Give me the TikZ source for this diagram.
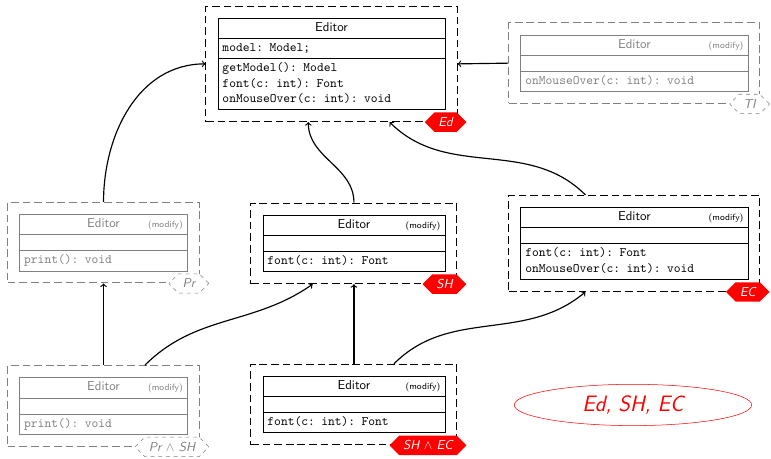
\documentclass[tikz,border=0pt]{standalone}
\usepackage{tikz}
\usetikzlibrary{shapes.multipart,shapes.misc,shapes.geometric,fit}

\newcommand{\edtitle}{\makebox[\linewidth]{\sffamily Editor}}
\newcommand{\modtitle}{\edtitle\llap{\sffamily\scriptsize (modify)}}

\begin{document}
\begin{tikzpicture}[
    cls/.style={rectangle split, rectangle split parts=3, draw, line width=0.6pt,
      text width=#1, inner xsep=3.5pt, inner ysep=1.5pt, font=\ttfamily},
    grp/.style={draw, thick, dash pattern=on 6pt off 3pt, inner sep=9pt},
    faded/.style={draw=gray, text=gray},
    feat/.style={chamfered rectangle, chamfered rectangle xsep=4.5pt,
      minimum height=15pt, inner xsep=6pt, inner ysep=1pt,
      font=\sffamily\itshape, anchor=east},
    sel/.style={feat, fill=red, text=white},
    unsel/.style={feat, draw=gray, dashed, fill=white, text=gray},
    arr/.style={->, line width=0.9pt}]
    \useasboundingbox (0,0) rectangle (21.0,-12.476);

    %% base class
    \node[cls=169pt] (ed) at (9.03,-1.74)
      {\edtitle\strut
       \nodepart{two}\strut model: Model;
       \nodepart{three}\strut getModel(): Model\\
       \strut font(c: int): Font\\
       \strut onMouseOver(c: int): void};
    \node[grp, fit=(ed)] (edg) {};
    \node[sel] (edl) at ([xshift=7pt]edg.south east) {Ed};

    %% TI (not selected)
    \node[cls=169pt, faded] (ti) at (17.28,-1.72)
      {\modtitle\strut
       \nodepart{two}\rule{0pt}{9pt}
       \nodepart{three}\strut onMouseOver(c: int): void};
    \node[grp, faded, fit=(ti)] (tig) {};
    \node[unsel] (til) at ([xshift=7pt]tig.south east) {TI};

    %% Pr (not selected)
    \node[cls=123pt, faded] (pr) at (2.82,-6.61)
      {\modtitle\strut
       \nodepart{two}\rule{0pt}{9pt}
       \nodepart{three}\strut print(): void};
    \node[grp, faded, fit=(pr)] (prg) {};
    \node[unsel] (prl) at ([xshift=7pt]prg.south east) {Pr};

    %% SH
    \node[cls=134pt] (sh) at (9.64,-6.63)
      {\modtitle\strut
       \nodepart{two}\rule{0pt}{9pt}
       \nodepart{three}\strut font(c: int): Font};
    \node[grp, fit=(sh)] (shg) {};
    \node[sel] (shl) at ([xshift=7pt]shg.south east) {SH};

    %% EC
    \node[cls=169pt] (ec) at (17.28,-6.63)
      {\modtitle\strut
       \nodepart{two}\rule{0pt}{9pt}
       \nodepart{three}\strut font(c: int): Font\\
       \strut onMouseOver(c: int): void};
    \node[grp, fit=(ec)] (ecg) {};
    \node[sel] (ecl) at ([xshift=7pt]ecg.south east) {EC};

    %% Pr and SH (not selected)
    \node[cls=123pt, faded] (prsh) at (2.82,-11.06)
      {\modtitle\strut
       \nodepart{two}\rule{0pt}{9pt}
       \nodepart{three}\strut print(): void};
    \node[grp, faded, fit=(prsh)] (prshg) {};
    \node[unsel] (prshl) at ([xshift=7pt]prshg.south east) {Pr $\wedge$ SH};

    %% SH and EC
    \node[cls=134pt] (shec) at (9.64,-11.02)
      {\modtitle\strut
       \nodepart{two}\rule{0pt}{9pt}
       \nodepart{three}\strut font(c: int): Font};
    \node[grp, fit=(shec)] (shecg) {};
    \node[sel] (shecl) at ([xshift=7pt]shecg.south east) {SH $\wedge$ EC};

    %% configuration
    \node[ellipse, draw=red, text=red, minimum width=184pt, minimum height=32pt,
      inner sep=0pt, font=\LARGE\sffamily\itshape] (conf) at (17.24,-11.03)
      {Ed, SH, EC};

    %% refinements
    \draw[arr] (prg.north) to[out=90, in=180] (edg.west);
    \draw[arr] (tig.west) -- (edg.east);
    \draw[arr] (shg.north) to[out=90, in=-90] ([xshift=-18pt]edg.south);
    \draw[arr] ([xshift=-38pt]ecg.north) to[out=135, in=-45] ([xshift=45pt]edg.south);
    \draw[arr] (prshg.north) -- (prg.south);
    \draw[arr] ([xshift=32pt]prshg.north) to[out=45, in=-145] ([xshift=-32pt]shg.south);
    \draw[arr] (shecg.north) -- (shg.south);
    \draw[arr] ([xshift=31pt]shecg.north) to[out=45, in=-140] ([xshift=-38pt]ecg.south);
  \end{tikzpicture}
\end{document}
